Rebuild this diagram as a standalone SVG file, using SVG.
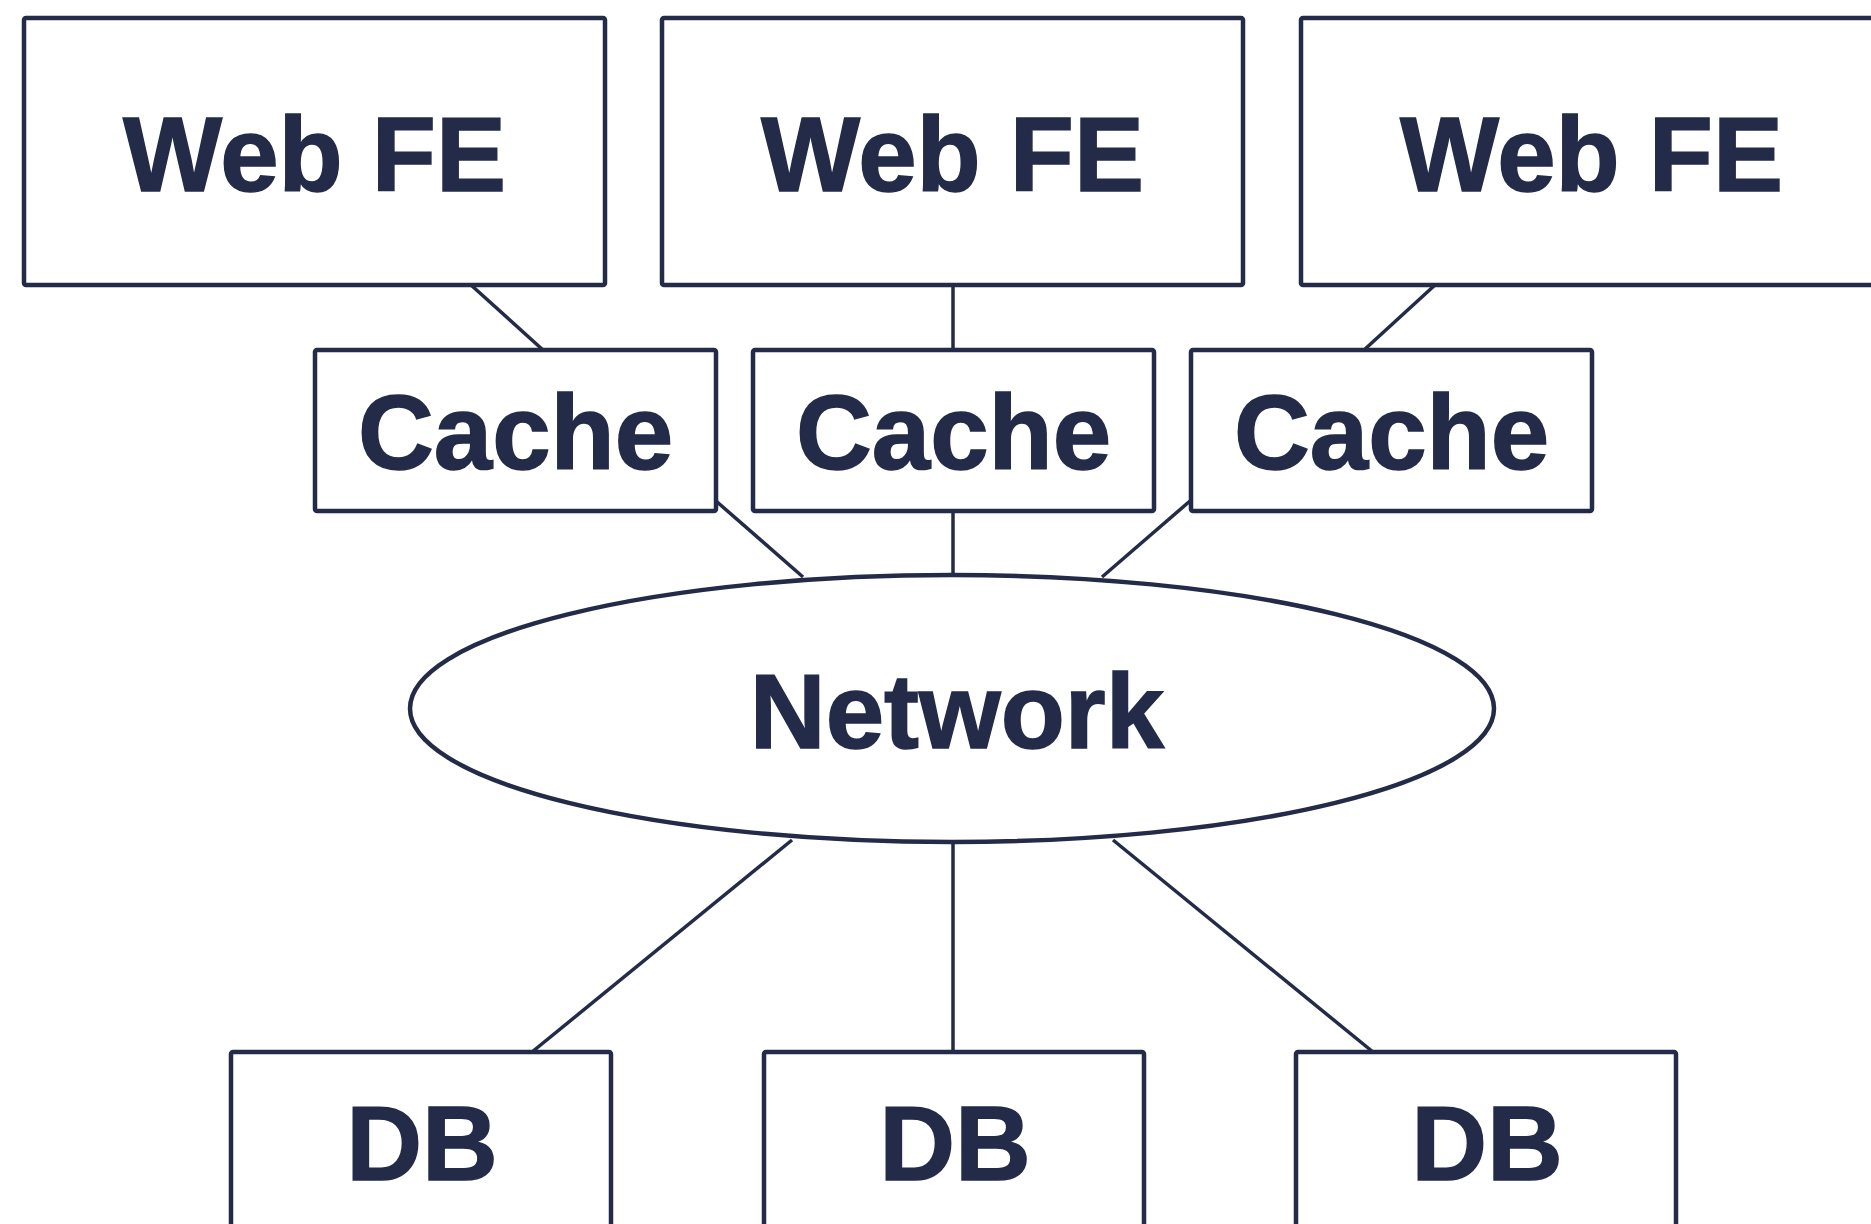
<svg xmlns="http://www.w3.org/2000/svg" width="1871" height="1224" viewBox="0 0 1871 1224">
  <style>
    .box { fill: #ffffff; stroke: #232b49; stroke-width: 4.5; }
    .edge { fill: none; stroke: #232b49; stroke-width: 3.5; }
    .label { font-family: "Liberation Sans", Arial, Helvetica, sans-serif; font-weight: bold; font-size: 105px; fill: #232b49; stroke: #232b49; stroke-width: 1.5; text-anchor: middle; }
  </style>
  <rect width="1871" height="1224" fill="#ffffff"/>

  <!-- links between tiers -->
  <g id="connectors">
    <line class="edge" x1="471" y1="285" x2="543" y2="350"/>
    <line class="edge" x1="953" y1="285" x2="953" y2="350"/>
    <line class="edge" x1="1435" y1="285" x2="1364" y2="350"/>
    <line class="edge" x1="716" y1="501" x2="803" y2="577"/>
    <line class="edge" x1="953" y1="511" x2="953" y2="575"/>
    <line class="edge" x1="1190" y1="501" x2="1102" y2="577"/>
    <line class="edge" x1="792" y1="840" x2="532" y2="1052"/>
    <line class="edge" x1="953" y1="842" x2="953" y2="1052"/>
    <line class="edge" x1="1113" y1="840" x2="1373" y2="1052"/>
  </g>

  <!-- front ends -->
  <g id="web-fe-1">
    <rect class="box" x="24" y="18" width="581" height="267" rx="2"/>
    <text class="label" x="314.5" y="191">Web FE</text>
  </g>
  <g id="web-fe-2">
    <rect class="box" x="662" y="18" width="581" height="267" rx="2"/>
    <text class="label" x="952.5" y="191">Web FE</text>
  </g>
  <g id="web-fe-3">
    <rect class="box" x="1301" y="18" width="581" height="267" rx="2"/>
    <text class="label" x="1591.5" y="191">Web FE</text>
  </g>

  <!-- caches -->
  <g id="cache-1">
    <rect class="box" x="315" y="350" width="401" height="161" rx="2"/>
    <text class="label" x="515.5" y="469">Cache</text>
  </g>
  <g id="cache-2">
    <rect class="box" x="753" y="350" width="401" height="161" rx="2"/>
    <text class="label" x="953.5" y="469">Cache</text>
  </g>
  <g id="cache-3">
    <rect class="box" x="1191" y="350" width="401" height="161" rx="2"/>
    <text class="label" x="1391.5" y="469">Cache</text>
  </g>

  <!-- network -->
  <g id="network">
    <ellipse class="box" cx="952" cy="708.5" rx="542" ry="133.5"/>
    <text class="label" x="957" y="748">Network</text>
  </g>

  <!-- databases -->
  <g id="db-1">
    <rect class="box" x="231" y="1052" width="380" height="230" rx="2"/>
    <text class="label" x="422" y="1180">DB</text>
  </g>
  <g id="db-2">
    <rect class="box" x="764" y="1052" width="380" height="230" rx="2"/>
    <text class="label" x="955" y="1180">DB</text>
  </g>
  <g id="db-3">
    <rect class="box" x="1296" y="1052" width="380" height="230" rx="2"/>
    <text class="label" x="1487" y="1180">DB</text>
  </g>
</svg>
